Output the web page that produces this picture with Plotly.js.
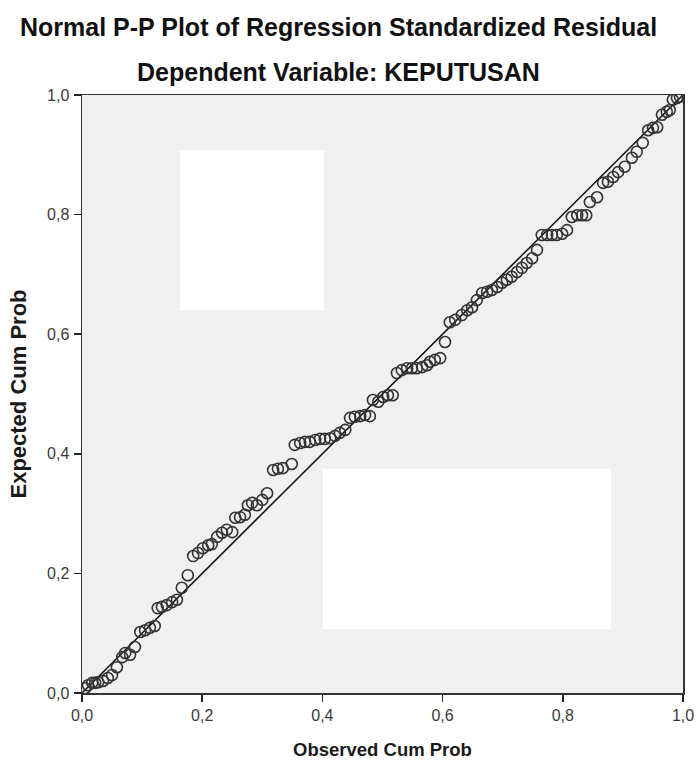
<!DOCTYPE html>
<html>
<head>
<meta charset="utf-8">
<script src="https://cdn.plot.ly/plotly-3.0.1.min.js"></script>
<style>html,body{margin:0;padding:0;background:#fff;}#chart{width:698px;height:765px;}</style>
</head>
<body>
<div id="chart"></div>
<script>
// Observed cumulative probability (x) and expected cumulative probability (y)
const observedCumProb = [0.005,0.010,0.017,0.022,0.027,0.035,0.043,0.050,0.058,0.067,0.072,0.080,0.088,0.097,0.105,0.113,0.121,0.126,0.133,0.141,0.150,0.158,0.166,0.176,0.185,0.193,0.201,0.210,0.216,0.225,0.233,0.241,0.250,0.255,0.263,0.271,0.276,0.283,0.291,0.300,0.308,0.318,0.326,0.334,0.349,0.354,0.363,0.371,0.379,0.388,0.396,0.404,0.413,0.421,0.429,0.438,0.446,0.454,0.463,0.471,0.479,0.484,0.493,0.501,0.509,0.517,0.524,0.532,0.541,0.549,0.557,0.566,0.574,0.579,0.587,0.596,0.604,0.612,0.621,0.632,0.641,0.649,0.657,0.666,0.674,0.682,0.691,0.699,0.707,0.715,0.724,0.732,0.740,0.749,0.757,0.765,0.774,0.782,0.790,0.799,0.807,0.815,0.824,0.832,0.839,0.845,0.857,0.867,0.875,0.884,0.892,0.903,0.915,0.923,0.933,0.942,0.950,0.957,0.965,0.973,0.978,0.983,0.990,0.995];
const expectedCumProb = [0.008,0.013,0.017,0.017,0.018,0.020,0.025,0.030,0.043,0.060,0.067,0.064,0.077,0.102,0.105,0.109,0.112,0.142,0.144,0.147,0.152,0.156,0.176,0.197,0.229,0.234,0.242,0.247,0.249,0.261,0.268,0.273,0.269,0.293,0.294,0.298,0.314,0.318,0.314,0.323,0.334,0.373,0.375,0.376,0.383,0.415,0.418,0.420,0.420,0.423,0.425,0.425,0.426,0.430,0.435,0.440,0.460,0.462,0.463,0.465,0.463,0.490,0.487,0.495,0.498,0.498,0.535,0.540,0.543,0.543,0.543,0.545,0.548,0.554,0.557,0.560,0.587,0.620,0.624,0.632,0.640,0.645,0.657,0.669,0.671,0.674,0.679,0.686,0.691,0.696,0.704,0.711,0.719,0.727,0.741,0.766,0.766,0.766,0.766,0.768,0.774,0.796,0.799,0.799,0.799,0.821,0.829,0.853,0.855,0.863,0.871,0.880,0.895,0.905,0.920,0.941,0.945,0.946,0.967,0.972,0.975,0.992,0.995,0.997];
const refLineX = [0, 1];
const refLineY = [0, 1];
const tickValues = [0, 0.2, 0.4, 0.6, 0.8, 1.0];
const tickLabels = ["0,0", "0,2", "0,4", "0,6", "0,8", "1,0"];
const titleLine1 = "Normal P-P Plot of Regression Standardized Residual";
const titleLine2 = "Dependent Variable: KEPUTUSAN";
const xTitle = "Observed Cum Prob";
const yTitle = "Expected Cum Prob";

const FONT = "Liberation Sans, Arial, sans-serif";

const traces = [
  {
    x: refLineX, y: refLineY, mode: "lines", type: "scatter",
    line: {color: "#111", width: 1.5}, hoverinfo: "skip", showlegend: false
  },
  {
    x: observedCumProb, y: expectedCumProb, mode: "markers", type: "scatter",
    marker: {symbol: "circle-open", size: 11, color: "#333", line: {width: 1.6, color: "#333"}},
    showlegend: false
  }
];

const axisCommon = {
  range: [0, 1], tickvals: tickValues, ticktext: tickLabels,
  ticks: "outside", ticklen: 7, tickwidth: 1.5, tickcolor: "#222",
  showline: true, linecolor: "#333", linewidth: 1.5, mirror: true,
  showgrid: false, zeroline: false, fixedrange: true,
  tickfont: {family: FONT, size: 16, color: "#3a3a3a"}
};

const layout = {
  width: 698, height: 765,
  margin: {l: 82, r: 15, t: 95, b: 72},
  paper_bgcolor: "#ffffff", plot_bgcolor: "#f0f0f0",
  showlegend: false,
  xaxis: Object.assign({}, axisCommon, {
    title: {text: "<b>" + xTitle + "</b>", font: {family: FONT, size: 18.5, color: "#1a1a1a"}, standoff: 20}
  }),
  yaxis: Object.assign({}, axisCommon, {
    ticklabelstandoff: 1,
    title: {text: "<b>" + yTitle + "</b>", font: {family: FONT, size: 22, color: "#1a1a1a"}, standoff: 14}
  }),
  shapes: [
    {type: "rect", xref: "x", yref: "y", x0: 0.163, x1: 0.403, y0: 0.640, y1: 0.908, fillcolor: "#ffffff", line: {width: 0}, layer: "below"},
    {type: "rect", xref: "x", yref: "y", x0: 0.401, x1: 0.880, y0: 0.107, y1: 0.375, fillcolor: "#ffffff", line: {width: 0}, layer: "below"}
  ],
  annotations: [
    {text: "<b>" + titleLine1 + "</b>", xref: "paper", yref: "paper", x: 0.426, y: 1, yshift: 68, xanchor: "center", yanchor: "middle", showarrow: false, font: {family: FONT, size: 25, color: "#111"}},
    {text: "<b>" + titleLine2 + "</b>", xref: "paper", yref: "paper", x: 0.426, y: 1, yshift: 23, xanchor: "center", yanchor: "middle", showarrow: false, font: {family: FONT, size: 25, color: "#111"}}
  ]
};

Plotly.newPlot("chart", traces, layout, {staticPlot: true, displayModeBar: false});
</script>
</body>
</html>
